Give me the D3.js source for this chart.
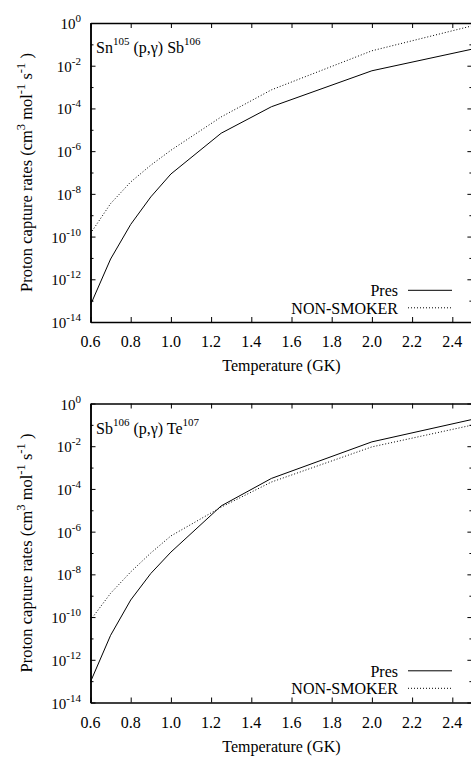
<!DOCTYPE html>
<html>
<head>
<meta charset="utf-8">
<script src="https://cdn.jsdelivr.net/npm/d3@7"></script>
<style>
  html, body { margin: 0; padding: 0; background: #fff; }
</style>
</head>
<body>
<svg id="svg" width="471" height="760"></svg>
<script>
// temperature grid (GK)
var temps = [0.6, 0.7, 0.8, 0.9, 1.0, 1.25, 1.5, 2.0, 2.5];

// Sn105(p,g)Sb106
var snPres = [6.3e-14, 8.9e-12, 3.7e-10, 7.2e-9, 8.5e-8, 6.9e-6, 1.2e-4, 5.8e-3, 6.0e-2];
var snNonSmoker = [1.4e-10, 3.5e-9, 3.6e-8, 2.2e-7, 1.1e-6, 4.0e-5, 7.4e-4, 5.0e-2, 7.4e-1];

// Sb106(p,g)Te107
var sbPres = [9.3e-14, 1.4e-11, 6.3e-10, 1.1e-8, 1.1e-7, 1.6e-5, 3.1e-4, 1.6e-2, 1.8e-1];
var sbNonSmoker = [7.2e-11, 1.3e-9, 1.3e-8, 1.0e-7, 6.3e-7, 1.4e-5, 2.1e-4, 9.3e-3, 9.8e-2];

var xTicks = [0.6, 0.8, 1.0, 1.2, 1.4, 1.6, 1.8, 2.0, 2.2, 2.4];
var yMajor = [0, -2, -4, -6, -8, -10, -12, -14];
var yMinor = [-1, -3, -5, -7, -9, -11, -13];
var seriesNames = ["Pres", "NON-SMOKER"];

var FONT = "'Liberation Serif', 'Times New Roman', Times, serif";
var svg = d3.select("#svg").attr("font-family", FONT);
var left = 90.5, right = 472.4, ph = 299;

var x = d3.scaleLinear().domain([0.6, 2.5]).range([left, right]);

function txt(sel){
	return sel.append("text").attr("font-family", FONT).attr("fill", "#000");
}

function drawPanel(top, target, pres, ns, id){
	var y = d3.scaleLog().domain([1e-14, 1]).range([top + ph, top]);
	var g = svg.append("g");

	g.append("clipPath").attr("id", "clip" + id)
		.append("rect").attr("x", left).attr("y", top).attr("width", right - left).attr("height", ph);

	// axes, ticks drawn inward
	g.append("g").attr("transform", "translate(0," + (top + ph) + ")")
		.call(d3.axisBottom(x).tickValues(xTicks).tickSize(-5).tickSizeOuter(0).tickFormat(""));
	g.append("g").attr("transform", "translate(0," + top + ")")
		.call(d3.axisTop(x).tickValues(xTicks).tickSize(-5).tickSizeOuter(0).tickFormat(""));

	var maj = yMajor.map(function(e){ return Math.pow(10, e); });
	var mnr = yMinor.map(function(e){ return Math.pow(10, e); });
	g.append("g").attr("transform", "translate(" + left + ",0)")
		.call(d3.axisLeft(y).tickValues(maj).tickSize(-5).tickSizeOuter(0).tickFormat(""));
	g.append("g").attr("transform", "translate(" + left + ",0)")
		.call(d3.axisLeft(y).tickValues(mnr).tickSize(-3).tickSizeOuter(0).tickFormat(""));
	g.append("g").attr("transform", "translate(" + right + ",0)")
		.call(d3.axisRight(y).tickValues(maj).tickSize(-5).tickSizeOuter(0).tickFormat(""));
	g.append("g").attr("transform", "translate(" + right + ",0)")
		.call(d3.axisRight(y).tickValues(mnr).tickSize(-3).tickSizeOuter(0).tickFormat(""));

	g.selectAll(".domain").attr("stroke", "#000").attr("stroke-width", 1.5);
	g.selectAll(".tick line").attr("stroke", "#000").attr("stroke-width", 1);

	// x tick labels
	xTicks.forEach(function(d){
		txt(g).attr("x", x(d)).attr("y", top + ph + 25)
			.attr("text-anchor", "middle").attr("font-size", 16)
			.text(d.toFixed(1));
	});

	// y tick labels 10^n
	yMajor.forEach(function(d){
		var t = txt(g).attr("x", 81).attr("y", y(Math.pow(10, d)) + 6)
			.attr("text-anchor", "end").attr("font-size", 15);
		t.append("tspan").text("10");
		t.append("tspan").attr("dy", -7).attr("font-size", 11).text(d);
	});

	// x title
	txt(g).attr("x", (left + right) / 2).attr("y", top + ph + 49)
		.attr("text-anchor", "middle").attr("font-size", 16).text("Temperature (GK)");

	// y title
	var cy = top + ph / 2;
	var yt = txt(g).attr("transform", "translate(32," + cy + ") rotate(-90)")
		.attr("text-anchor", "middle").attr("font-size", 16.5);
	yt.append("tspan").text("Proton capture rates (cm");
	yt.append("tspan").attr("dy", -7).attr("font-size", 12.5).text("3");
	yt.append("tspan").attr("dy", 7).text(" mol");
	yt.append("tspan").attr("dy", -7).attr("font-size", 12.5).text("-1");
	yt.append("tspan").attr("dy", 7).text(" s");
	yt.append("tspan").attr("dy", -7).attr("font-size", 12.5).text("-1");
	yt.append("tspan").attr("dy", 7).text(" )");

	// reaction label
	var rl = txt(g).attr("x", 96).attr("y", top + 30).attr("font-size", 16);
	rl.append("tspan").text(target[0]);
	rl.append("tspan").attr("dy", -8).attr("font-size", 11).text(target[1]);
	rl.append("tspan").attr("dy", 8).text(" (p,\u03b3) " + target[2]);
	rl.append("tspan").attr("dy", -8).attr("font-size", 11).text(target[3]);

	// curves
	var line = d3.line()
		.x(function(d){ return x(d[0]); })
		.y(function(d){ return y(d[1]); });
	var curves = [
		{ v: pres, dash: null },
		{ v: ns, dash: "1,2" }
	];
	g.selectAll(".curve").data(curves).enter().append("path")
		.attr("clip-path", "url(#clip" + id + ")")
		.attr("d", function(c){ return line(d3.zip(temps, c.v)); })
		.attr("fill", "none").attr("stroke", "#000").attr("stroke-width", 1)
		.attr("stroke-dasharray", function(c){ return c.dash; });

	// legend
	seriesNames.forEach(function(d, i){
		var ly = top + ph - 31.7 + i * 17.5;
		txt(g).attr("x", 398).attr("y", ly + 6).attr("text-anchor", "end")
			.attr("font-size", 16).text(d);
		g.append("line").attr("x1", 408).attr("x2", 452).attr("y1", ly).attr("y2", ly)
			.attr("stroke", "#000").attr("stroke-width", 1)
			.attr("stroke-dasharray", i ? "1,2" : null);
	});
}

drawPanel(23, ["Sn", "105", "Sb", "106"], snPres, snNonSmoker, 1);
drawPanel(403.5, ["Sb", "106", "Te", "107"], sbPres, sbNonSmoker, 2);
</script>
</body>
</html>
